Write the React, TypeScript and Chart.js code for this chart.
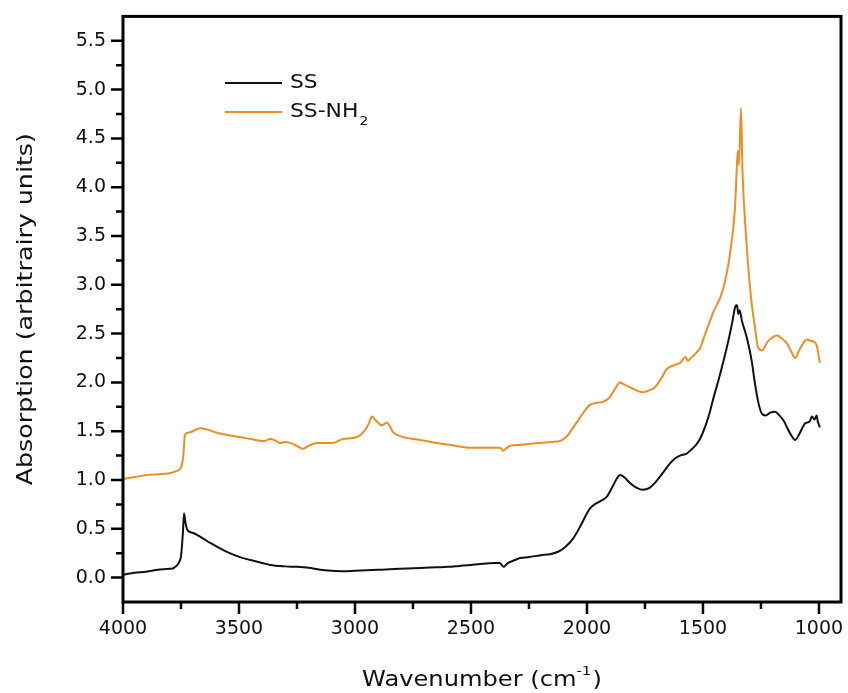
import { useEffect, useRef } from "react";
import { Chart, registerables } from "chart.js";

Chart.register(...registerables);

const ssWavenumber = [
  4000, 3950, 3900, 3850, 3800, 3780, 3760, 3750, 3742, 3737, 3730, 3720, 3700, 3668, 3620, 3582, 3540, 3496, 3450, 3400,
  3366, 3300, 3250, 3200, 3150, 3100, 3050, 3000, 2950, 2900, 2850, 2806, 2750, 2700, 2650, 2600, 2550, 2500, 2461, 2400,
  2375, 2365, 2358, 2350, 2340, 2320, 2289, 2250, 2200, 2159, 2120, 2095, 2060, 2030, 2000, 1987, 1960, 1944, 1914, 1890,
  1870, 1858, 1840, 1815, 1785, 1759, 1730, 1707, 1680, 1642, 1620, 1599, 1570, 1556, 1530, 1513, 1490, 1470, 1457, 1430,
  1397, 1375, 1360, 1353, 1348, 1342, 1332, 1310, 1290, 1276, 1260, 1246, 1230, 1210, 1190, 1170, 1150, 1138, 1120, 1103,
  1085, 1060, 1040, 1030, 1020, 1010, 1005, 996,
];
const ssAbsorption = [
  0.03, 0.05, 0.06, 0.08, 0.09, 0.1, 0.15, 0.22, 0.45, 0.66, 0.55, 0.48, 0.46, 0.42, 0.35, 0.3, 0.25, 0.21, 0.18, 0.15,
  0.13, 0.115, 0.11, 0.1, 0.08, 0.07, 0.065, 0.07, 0.075, 0.08, 0.085, 0.09, 0.095, 0.1, 0.105, 0.11, 0.12, 0.13, 0.14, 0.15,
  0.15, 0.12, 0.11, 0.13, 0.15, 0.17, 0.2, 0.21, 0.23, 0.24, 0.27, 0.31, 0.4, 0.52, 0.66, 0.71, 0.76, 0.78, 0.83, 0.93,
  1.02, 1.05, 1.03, 0.97, 0.92, 0.9, 0.92, 0.97, 1.05, 1.17, 1.22, 1.25, 1.27, 1.3, 1.36, 1.42, 1.55, 1.7, 1.82, 2.05,
  2.36, 2.6, 2.78, 2.79, 2.7, 2.74, 2.63, 2.45, 2.22, 1.99, 1.78, 1.68, 1.66, 1.69, 1.7, 1.66, 1.6, 1.54, 1.46, 1.41,
  1.47, 1.58, 1.6, 1.65, 1.62, 1.66, 1.6, 1.54,
];

const nh2Wavenumber = [
  4000, 3950, 3900, 3850, 3800, 3770, 3750, 3740, 3733, 3711, 3690, 3668, 3640, 3603, 3550, 3496, 3450, 3400, 3388, 3366,
  3340, 3323, 3300, 3280, 3250, 3224, 3200, 3164, 3095, 3052, 2991, 2957, 2940, 2927, 2910, 2884, 2862, 2850, 2836, 2806,
  2720, 2650, 2591, 2504, 2400, 2375, 2360, 2350, 2330, 2289, 2203, 2150, 2116, 2090, 2073, 2030, 1987, 1960, 1931, 1901,
  1880, 1858, 1840, 1806, 1759, 1730, 1707, 1680, 1655, 1620, 1599, 1575, 1565, 1556, 1530, 1513, 1490, 1457, 1414, 1384,
  1362, 1352, 1349, 1345, 1336, 1330, 1315, 1293, 1275, 1263, 1246, 1220, 1181, 1160, 1138, 1120, 1103, 1085, 1052, 1040,
  1026, 1010, 996,
];
const nh2Absorption = [
  1.01, 1.03, 1.05, 1.06, 1.07, 1.09, 1.13, 1.25, 1.46, 1.49, 1.51, 1.53, 1.52, 1.49, 1.46, 1.44, 1.42, 1.4, 1.4, 1.42,
  1.4, 1.38, 1.39, 1.38, 1.35, 1.32, 1.35, 1.38, 1.38, 1.42, 1.44, 1.51, 1.58, 1.65, 1.61, 1.56, 1.59, 1.55, 1.49, 1.45,
  1.41, 1.38, 1.36, 1.33, 1.33, 1.33, 1.3, 1.32, 1.35, 1.36, 1.38, 1.39, 1.4, 1.44, 1.49, 1.64, 1.77, 1.79, 1.8, 1.85,
  1.93, 2.0, 1.98, 1.94, 1.9, 1.92, 1.95, 2.04, 2.14, 2.18, 2.2, 2.26, 2.22, 2.24, 2.3, 2.35, 2.5, 2.71, 2.95, 3.31,
  3.79, 4.3, 4.37, 4.23, 4.81, 4.19, 3.52, 2.87, 2.55, 2.36, 2.33, 2.42, 2.48, 2.45, 2.4, 2.32, 2.25, 2.33, 2.44, 2.43,
  2.42, 2.38, 2.2,
];

const xMajorTicks = [4000, 3500, 3000, 2500, 2000, 1500, 1000];
const xMinorTicks = [3750, 3250, 2750, 2250, 1750, 1250];
const yMajorTicks = [0, 0.5, 1, 1.5, 2, 2.5, 3, 3.5, 4, 4.5, 5, 5.5];
const yMinorTicks = [0.25, 0.75, 1.25, 1.75, 2.25, 2.75, 3.25, 3.75, 4.25, 4.75, 5.25];

const seriesNames = ["SS", "SS-NH"];
const seriesSubscripts = ["", "2"];
const seriesColors = ["#111111", "#EF8C22"];
const xTitle = "Wavenumber (cm";
const xTitleSup = "-1";
const yTitle = "Absorption (arbitrairy units)";

const FONT = "'DejaVu Sans', Verdana, sans-serif";
const STRETCH = 1.15;

const decorPlugin = {
  id: "decor",
  afterDraw(chart: any) {
    const { ctx, chartArea: a, scales } = chart;
    const x = scales.x;
    const y = scales.y;
    ctx.save();
    ctx.strokeStyle = "#000";
    ctx.lineWidth = 2.5;
    ctx.beginPath();
    for (const v of xMajorTicks) {
      const px = x.getPixelForValue(v);
      ctx.moveTo(px, a.bottom);
      ctx.lineTo(px, a.bottom + 12);
    }
    for (const v of xMinorTicks) {
      const px = x.getPixelForValue(v);
      ctx.moveTo(px, a.bottom);
      ctx.lineTo(px, a.bottom + 7);
    }
    for (const v of yMajorTicks) {
      const py = y.getPixelForValue(v);
      ctx.moveTo(a.left, py);
      ctx.lineTo(a.left - 12, py);
    }
    for (const v of yMinorTicks) {
      const py = y.getPixelForValue(v);
      ctx.moveTo(a.left, py);
      ctx.lineTo(a.left - 7, py);
    }
    ctx.stroke();
    ctx.lineWidth = 3;
    ctx.strokeRect(a.left, a.top, a.right - a.left, a.bottom - a.top);

    // legend
    const legX = 225;
    const legY = 83;
    const rowH = 29;
    seriesNames.forEach((name, i) => {
      const ly = legY + i * rowH;
      ctx.strokeStyle = seriesColors[i];
      ctx.lineWidth = 2;
      ctx.beginPath();
      ctx.moveTo(legX, ly);
      ctx.lineTo(legX + 57, ly);
      ctx.stroke();
      ctx.save();
      ctx.translate(legX + 65, ly);
      ctx.scale(STRETCH, 1);
      ctx.fillStyle = "#111";
      ctx.textBaseline = "middle";
      ctx.textAlign = "left";
      ctx.font = `19px ${FONT}`;
      ctx.fillText(name, 0, 0);
      if (seriesSubscripts[i]) {
        const w = ctx.measureText(name).width;
        ctx.font = `12px ${FONT}`;
        ctx.fillText(seriesSubscripts[i], w + 1, 10);
      }
      ctx.restore();
    });

    // x title
    ctx.save();
    ctx.fillStyle = "#111";
    ctx.textBaseline = "alphabetic";
    ctx.textAlign = "left";
    ctx.font = `21px ${FONT}`;
    const mainW = ctx.measureText(xTitle).width;
    const closeW = ctx.measureText(")").width;
    ctx.font = `13px ${FONT}`;
    const supW = ctx.measureText(xTitleSup).width;
    const total = (mainW + supW + 1 + closeW) * STRETCH;
    const cx = (a.left + a.right) / 2;
    ctx.translate(cx - total / 2, 686);
    ctx.scale(STRETCH, 1);
    ctx.font = `21px ${FONT}`;
    ctx.fillText(xTitle, 0, 0);
    ctx.font = `13px ${FONT}`;
    ctx.fillText(xTitleSup, mainW, -11);
    ctx.font = `21px ${FONT}`;
    ctx.fillText(")", mainW + supW + 1, 0);
    ctx.restore();

    // y title
    ctx.save();
    ctx.fillStyle = "#111";
    ctx.translate(26, (a.top + a.bottom) / 2);
    ctx.rotate(-Math.PI / 2);
    ctx.scale(STRETCH, 1);
    ctx.textAlign = "center";
    ctx.textBaseline = "middle";
    ctx.font = `22px ${FONT}`;
    ctx.fillText(yTitle, 0, 0);
    ctx.restore();

    ctx.restore();
  },
};

export default function App() {
  const ref = useRef<HTMLCanvasElement | null>(null);
  useEffect(() => {
    document.body.style.margin = "0";
    const canvas = ref.current;
    if (!canvas) return;
    const toPoints = (xs: number[], ys: number[]) => xs.map((v, i) => ({ x: v, y: ys[i] }));
    const chart = new Chart(canvas, {
      type: "line",
      data: {
        datasets: [
          {
            label: "SS",
            data: toPoints(ssWavenumber, ssAbsorption),
            borderColor: seriesColors[0],
            borderWidth: 2,
            pointRadius: 0,
            cubicInterpolationMode: "monotone",
          },
          {
            label: "SS-NH2",
            data: toPoints(nh2Wavenumber, nh2Absorption),
            borderColor: seriesColors[1],
            borderWidth: 2,
            pointRadius: 0,
            cubicInterpolationMode: "monotone",
          },
        ],
      },
      options: {
        responsive: false,
        animation: false,
        layout: { padding: { top: 15, right: 7, left: 0, bottom: 0 } },
        plugins: { legend: { display: false }, tooltip: { enabled: false } },
        scales: {
          x: {
            type: "linear",
            reverse: true,
            min: 905,
            max: 4000,
            afterBuildTicks: (s: any) => {
              s.ticks = xMajorTicks.map((v) => ({ value: v }));
            },
            afterFit: (s: any) => {
              s.height = 91;
            },
            grid: { display: false, drawTicks: true, tickLength: 12 },
            border: { display: false },
            ticks: {
              autoSkip: false,
              maxRotation: 0,
              padding: 4,
              color: "#111",
              font: { family: FONT, size: 19 },
              callback: (v: any) => String(v),
            },
          },
          y: {
            type: "linear",
            min: -0.25,
            max: 5.75,
            afterBuildTicks: (s: any) => {
              s.ticks = yMajorTicks.map((v) => ({ value: v }));
            },
            afterFit: (s: any) => {
              s.width = 123;
            },
            grid: { display: false, drawTicks: true, tickLength: 12 },
            border: { display: false },
            ticks: {
              autoSkip: false,
              padding: 5,
              color: "#111",
              font: { family: FONT, size: 19 },
              callback: (v: any) => Number(v).toFixed(1),
            },
          },
        },
      },
      plugins: [decorPlugin],
    });
    return () => chart.destroy();
  }, []);
  return (
    <div style={{ width: 848, height: 693 }}>
      <canvas ref={ref} width={848} height={693} />
    </div>
  );
}
